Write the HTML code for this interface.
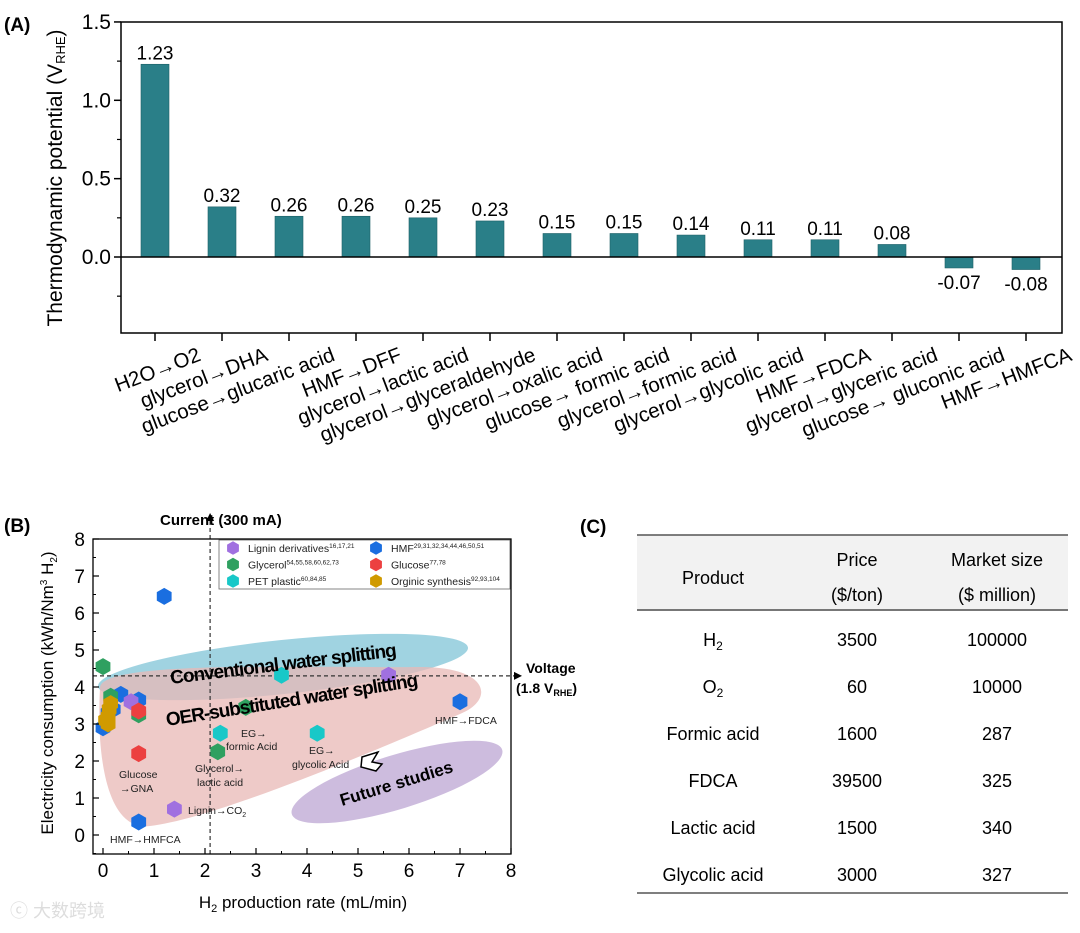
<!DOCTYPE html>
<html><head><meta charset="utf-8"><style>
body{margin:0;background:#fff;font-family:"Liberation Sans",Arial,sans-serif;}
svg text{font-family:"Liberation Sans",Arial,sans-serif;}
</style></head><body>
<svg id="root" width="1080" height="928" viewBox="0 0 1080 928" xmlns="http://www.w3.org/2000/svg">
<g id="panelA"></g>
<g id="panelB"></g>
<g id="panelC"></g>
</svg>
<script>
const aCategories=["H2O→O2","glycerol→DHA","glucose→glucaric acid","HMF→DFF","glycerol→lactic acid","glycerol→glyceraldehyde","glycerol→oxalic acid","glucose→ formic acid","glycerol→formic acid","glycerol→glycolic acid","HMF→FDCA","glycerol→glyceric acid","glucose→ gluconic acid","HMF→HMFCA"];
const aValues=[1.23,0.32,0.26,0.26,0.25,0.23,0.15,0.15,0.14,0.11,0.11,0.08,-0.07,-0.08];
const aYTicks=[0,0.5,1.0,1.5];
const bLegendNames=["Lignin derivatives","Glycerol","PET plastic","HMF","Glucose","Orginic synthesis"];
const bLegendRefs=["16,17,21","54,55,58,60,62,73","60,84,85","29,31,32,34,44,46,50,51","77,78","92,93,104"];
const bColors=["#a070e0","#2fa060","#18c8c8","#1a6ee0","#ec4040","#d09a00"];
const ligninX=[5.6,0.55,1.4], ligninY=[4.32,3.6,0.7];
const glycerolX=[0,0.15,0.7,2.8,2.25], glycerolY=[4.55,3.75,3.25,3.45,2.25];
const petX=[3.5,2.3,4.2], petY=[4.32,2.75,2.75];
const hmfX=[1.2,7,0.7,0,0.1,0.35,0.7,0.2], hmfY=[6.45,3.6,0.35,2.9,3.3,3.8,3.65,3.4];
const glucoseX=[0.7,0.7], glucoseY=[2.2,3.35];
const orgX=[0.05,0.1,0.1,0.12,0.15], orgY=[3.1,3.0,3.2,3.4,3.55];
const bXTicks=[0,1,2,3,4,5,6,7,8];
const bYTicks=[0,1,2,3,4,5,6,7,8];
const cProducts=["H2","O2","Formic acid","FDCA","Lactic acid","Glycolic acid"];
const cPrices=["3500","60","1600","39500","1500","3000"];
const cMarket=["100000","10000","287","325","340","327"];

const NS="http://www.w3.org/2000/svg";
function mk(parent,tag,attrs,txt){const e=document.createElementNS(NS,tag);for(const k in attrs)e.setAttribute(k,attrs[k]);if(txt!==undefined)e.textContent=txt;parent.appendChild(e);return e;}

// ---- Panel A
const A=document.getElementById('panelA');
const aL=121,aR=1062,aT=22,aB=333;
const ay=v=>257-v*156.7;
const ax=i=>155+i*67;
let t=mk(A,'text',{x:4,y:31,'font-size':19,'font-weight':'bold'},'(A)');

aValues.forEach((v,i)=>{
  const r=mk(A,'rect',{x:ax(i)-14,y:Math.min(ay(v),ay(0)),width:28,height:Math.abs(ay(v)-ay(0)),fill:'#2a7f88',stroke:'#1d5f66','stroke-width':0.6});
  
  const lb=mk(A,'text',{x:ax(i),y:v>=0?ay(v)-5:ay(v)+21,'font-size':19,'text-anchor':'middle'},v.toFixed(2));
  
  mk(A,'line',{x1:ax(i),x2:ax(i),y1:aB,y2:aB+8,stroke:'#000','stroke-width':1.5});
  const cl=mk(A,'text',{x:ax(i)+47,y:360,'font-size':20.5,'text-anchor':'end',transform:`rotate(-21 ${ax(i)+47} 360)`},aCategories[i]);
  
});
mk(A,'line',{x1:aL,x2:aR,y1:ay(0),y2:ay(0),stroke:'#000','stroke-width':1.5});
const fr=mk(A,'rect',{x:aL,y:aT,width:aR-aL,height:aB-aT,fill:'none',stroke:'#000','stroke-width':1.5});

aYTicks.forEach(v=>{
  mk(A,'line',{x1:aL-7,x2:aL,y1:ay(v),y2:ay(v),stroke:'#000','stroke-width':1.5});
  const tl=mk(A,'text',{x:aL-10,y:ay(v)+7,'font-size':21,'text-anchor':'end'},v.toFixed(1));
  
});
[-0.25,0.25,0.75,1.25].forEach(v=>mk(A,'line',{x1:aL-4,x2:aL,y1:ay(v),y2:ay(v),stroke:'#000','stroke-width':1.2}));
t=mk(A,'text',{x:0,y:0,'font-size':21,'text-anchor':'middle',transform:'translate(62 178) rotate(-90)'});

t.innerHTML='Thermodynamic potential (V<tspan font-size="13" dy="3">RHE</tspan><tspan dy="-3">)</tspan>';

// ---- Panel B
const B=document.getElementById('panelB');
const bx=v=>103+v*51, by=v=>835-v*37;
const bL=93,bR=511,bT=539,bB=854;
t=mk(B,'text',{x:4,y:532,'font-size':19,'font-weight':'bold'},'(B)');

let e=mk(B,'ellipse',{cx:283,cy:667,rx:186,ry:27,fill:'#8fcbdc',opacity:0.85,transform:'rotate(-6 283 667)'});

e=mk(B,'path',{d:'M100 688 C100 660 300 668 420 667 C490 667 495 700 460 714 C400 740 220 818 150 826 C108 832 96 760 100 688 Z',fill:'#e8b8b6',opacity:0.75});

e=mk(B,'ellipse',{cx:397,cy:782,rx:110,ry:27,fill:'#c4b0d8',opacity:0.85,transform:'rotate(-17 397 782)'});

mk(B,'line',{x1:bx(2.1),x2:bx(2.1),y1:bB,y2:517,stroke:'#333','stroke-width':1.2,'stroke-dasharray':'4,3'});
mk(B,'path',{d:`M${bx(2.1)-4} 521 L${bx(2.1)} 513 L${bx(2.1)+4} 521Z`,fill:'#000'});
mk(B,'line',{x1:bL,x2:518,y1:by(4.3),y2:by(4.3),stroke:'#333','stroke-width':1.2,'stroke-dasharray':'4,3'});
mk(B,'path',{d:`M514 ${by(4.3)-4} L522 ${by(4.3)} L514 ${by(4.3)+4}Z`,fill:'#000'});
t=mk(B,'text',{x:160,y:525,'font-size':15,'font-weight':'bold'},'Current (300 mA)');

t=mk(B,'text',{x:526,y:673,'font-size':14,'font-weight':'bold'},'Voltage');

t=mk(B,'text',{x:516,y:693,'font-size':14,'font-weight':'bold'});t.innerHTML='(1.8 V<tspan font-size="9" dy="3">RHE</tspan><tspan dy="-3">)</tspan>';

function hex(cx,cy,c){const r=8.5;let d='';for(let k=0;k<6;k++){const a=Math.PI/3*k+Math.PI/6;d+=(k?'L':'M')+(cx+r*Math.cos(a)).toFixed(1)+' '+(cy+r*Math.sin(a)).toFixed(1);}return mk(B,'path',{d:d+'Z',fill:c});}
const series=[[hmfX,hmfY,3],[glycerolX,glycerolY,1],[petX,petY,2],[ligninX,ligninY,0],[glucoseX,glucoseY,4],[orgX,orgY,5]];
series.forEach(([X,Y,ci])=>X.forEach((x,i)=>{const p=hex(bx(x),by(Y[i]),bColors[ci]);}));
t=mk(B,'text',{x:0,y:0,'font-size':19,'font-weight':'bold',textLength:228,transform:'translate(171 684) rotate(-7)'},'Conventional water splitting');

t=mk(B,'text',{x:0,y:0,'font-size':19,'font-weight':'bold',textLength:255,transform:'translate(167 726) rotate(-9)'},'OER-substituted water splitting');

t=mk(B,'text',{x:0,y:0,'font-size':17,'font-weight':'bold',transform:'translate(342 806) rotate(-17)'},'Future studies');

mk(B,'path',{d:'M362 757 L378 752 L372 762 L382 764 L376 771 L361 767 Z',fill:'#fff',stroke:'#000','stroke-width':1.5});
const ann=[["HMF→FDCA",435,724],["EG→",241,737],["formic Acid",226,750],["EG→",309,754],["glycolic Acid",292,768],["Glycerol→",195,772],["lactic acid",197,786],["Glucose",119,778],["→GNA",120,792],["HMF→HMFCA",110,843]];
ann.forEach(a=>{t=mk(B,'text',{x:a[1],y:a[2],'font-size':10.5,fill:'#222'},a[0]);});
t=mk(B,'text',{x:188,y:814,'font-size':10.5,fill:'#222'});t.innerHTML='Lignin→CO<tspan font-size="7" dy="3">2</tspan>';

const lg=mk(B,'rect',{x:219,y:540,width:291,height:49,fill:'#fff',stroke:'#666','stroke-width':0.8});

bLegendNames.forEach((n,i)=>{
  const col=Math.floor(i/3),row=i%3;const x0=233+col*143,y0=548+row*16.5;
  const h=hex(x0,y0,bColors[i]);h.setAttribute('transform',`translate(${x0} ${y0}) scale(0.8) translate(${-x0} ${-y0})`);
  
  const tx=mk(B,'text',{x:x0+15,y:y0+4,'font-size':10.5,fill:'#222'});
  tx.innerHTML=n+'<tspan font-size="6.5" dy="-4">'+bLegendRefs[i]+'</tspan>';
  
});
mk(B,'rect',{x:bL,y:bT,width:bR-bL,height:bB-bT,fill:'none',stroke:'#000','stroke-width':1.3});
bXTicks.forEach(v=>{mk(B,'line',{x1:bx(v),x2:bx(v),y1:bB,y2:bB-6,stroke:'#000','stroke-width':1.2});
  if(v<8)mk(B,'line',{x1:bx(v+0.5),x2:bx(v+0.5),y1:bB,y2:bB-3,stroke:'#000','stroke-width':1});
  const l=mk(B,'text',{x:bx(v),y:bB+23,'font-size':19,'text-anchor':'middle'},v);});
bYTicks.forEach(v=>{mk(B,'line',{x1:bL,x2:bL+6,y1:by(v),y2:by(v),stroke:'#000','stroke-width':1.2});
  mk(B,'line',{x1:bL,x2:bL+3,y1:by(v-0.5),y2:by(v-0.5),stroke:'#000','stroke-width':1});
  const l=mk(B,'text',{x:bL-8,y:by(v)+7,'font-size':19,'text-anchor':'end'},v);});
t=mk(B,'text',{x:303,y:908,'font-size':17,'text-anchor':'middle'});t.innerHTML='H<tspan font-size="11" dy="4">2</tspan><tspan dy="-4"> production rate (mL/min)</tspan>';

t=mk(B,'text',{x:0,y:0,'font-size':17,'text-anchor':'middle',transform:'translate(53 693) rotate(-90)'});
t.innerHTML='Electricity consumption (kWh/Nm<tspan font-size="10" dy="-6">3</tspan><tspan dy="6"> H</tspan><tspan font-size="10" dy="4">2</tspan><tspan dy="-4">)</tspan>';

t=mk(B,'text',{x:10,y:917,'font-size':18,fill:'#ddd','font-family':'"Liberation Sans","Noto Sans CJK SC",sans-serif'},'ⓒ 大数跨境');


// ---- Panel C
const C=document.getElementById('panelC');
t=mk(C,'text',{x:580,y:533,'font-size':19,'font-weight':'bold'},'(C)');

mk(C,'rect',{x:637,y:535,width:431,height:75,fill:'#f2f2f2'});
mk(C,'line',{x1:637,x2:1068,y1:535,y2:535,stroke:'#555','stroke-width':1.5});
mk(C,'line',{x1:637,x2:1068,y1:610,y2:610,stroke:'#777','stroke-width':2});
mk(C,'line',{x1:637,x2:1068,y1:893,y2:893,stroke:'#555','stroke-width':1.5});
const cx=[713,857,997];
[['Product',cx[0],584],['Price',cx[1],566],['($/ton)',cx[1],601],['Market size',cx[2],566],['($ million)',cx[2],601]].forEach(h=>{
  const e=mk(C,'text',{x:h[1],y:h[2],'font-size':18,'text-anchor':'middle'},h[0]);});
cProducts.forEach((p,i)=>{const y=646+i*47;
  const e=mk(C,'text',{x:cx[0],y:y,'font-size':18,'text-anchor':'middle'});
  if(p==='H2'||p==='O2')e.innerHTML=p[0]+'<tspan font-size="12" dy="4">2</tspan>';else e.textContent=p;
  
  const a=mk(C,'text',{x:cx[1],y:y,'font-size':18,'text-anchor':'middle'},cPrices[i]);
  const b=mk(C,'text',{x:cx[2],y:y,'font-size':18,'text-anchor':'middle'},cMarket[i]);
});
</script>
</body></html>
